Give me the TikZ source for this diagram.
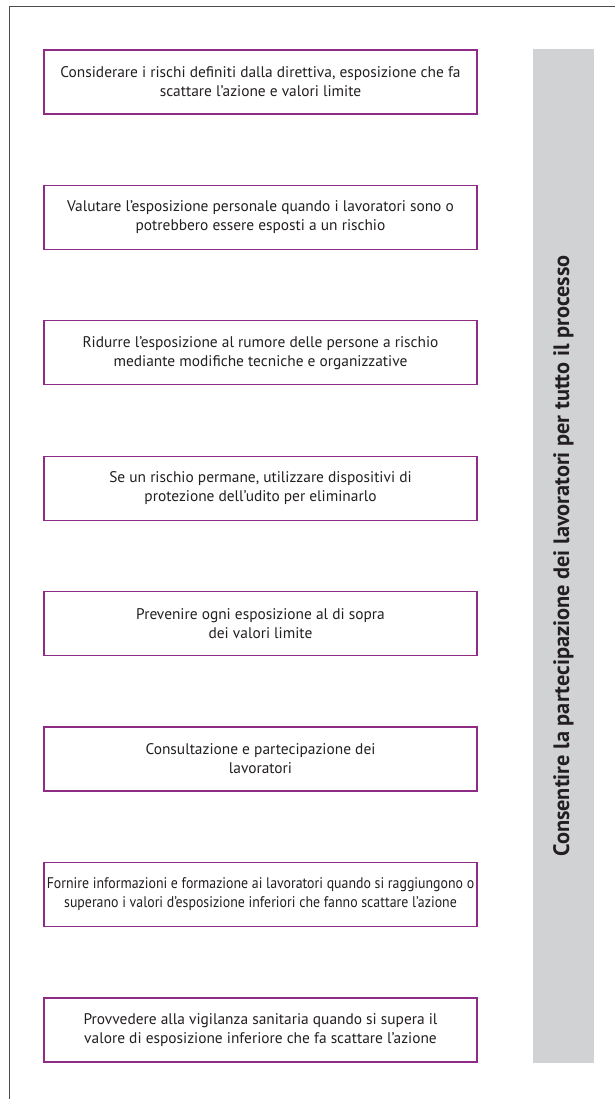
\documentclass[tikz,border=0pt]{standalone}
\usepackage{fontspec}
\setmainfont{PT Sans}
\usepackage{tikz}
\definecolor{viola}{RGB}{142,44,133}
\definecolor{grigio}{RGB}{209,210,212}
\definecolor{testo}{RGB}{35,31,32}

\begin{document}
\begin{tikzpicture}[x=1pt,y=-1pt]
\tikzstyle{riquadro} = [draw=viola, line width=1.1pt, minimum width=433pt, minimum height=64pt, align=center, text=testo, font=\fontsize{15.4}{19}\selectfont, inner sep=0pt]
\tikzstyle{stretto} = [font=\fontsize{15.4}{19}\selectfont\addfontfeature{FakeStretch=0.9}]
\tikzstyle{barra} = [fill=grigio, rotate=90, minimum width=1014pt, minimum height=61pt, inner sep=0pt, text=testo, font=\fontsize{22.3}{24}\selectfont\bfseries]
\useasboundingbox (0,0) rectangle (615,1099);
\draw[gray!60!black, line width=1pt] (9,1099) -- (9,7) -- (615,7);
\node[riquadro] (v1) at (260.5,82) {Considerare i rischi definiti dalla direttiva, esposizione che fa\\scattare l’azione e valori limite};
\node[riquadro] (v2) at (260.5,217.4) {Valutare l’esposizione personale quando i lavoratori sono o\\potrebbero essere esposti a un rischio};
\node[riquadro] (v3) at (260.5,352.8) {Ridurre l’esposizione al rumore delle persone a rischio\\mediante modifiche tecniche e organizzative};
\node[riquadro] (v4) at (260.5,488.2) {Se un rischio permane, utilizzare dispositivi di\\protezione dell’udito per eliminarlo};
\node[riquadro] (v5) at (260.5,623.6) {Prevenire ogni esposizione al di sopra\\dei valori limite};
\node[riquadro] (v6) at (260.5,759) {Consultazione e partecipazione dei\\lavoratori};
\node[riquadro,stretto] (v7) at (260.5,894.4) {Fornire informazioni e formazione ai lavoratori quando si raggiungono o\\superano i valori d’esposizione inferiori che fanno scattare l’azione};
\node[riquadro] (v8) at (260.5,1030) {Provvedere alla vigilanza sanitaria quando si supera il\\valore di esposizione inferiore che fa scattare l’azione};
%barra laterale
\node[barra] (b1) at (563.5,556) {Consentire la partecipazione dei lavoratori per tutto il processo};
\end{tikzpicture}
\end{document}
